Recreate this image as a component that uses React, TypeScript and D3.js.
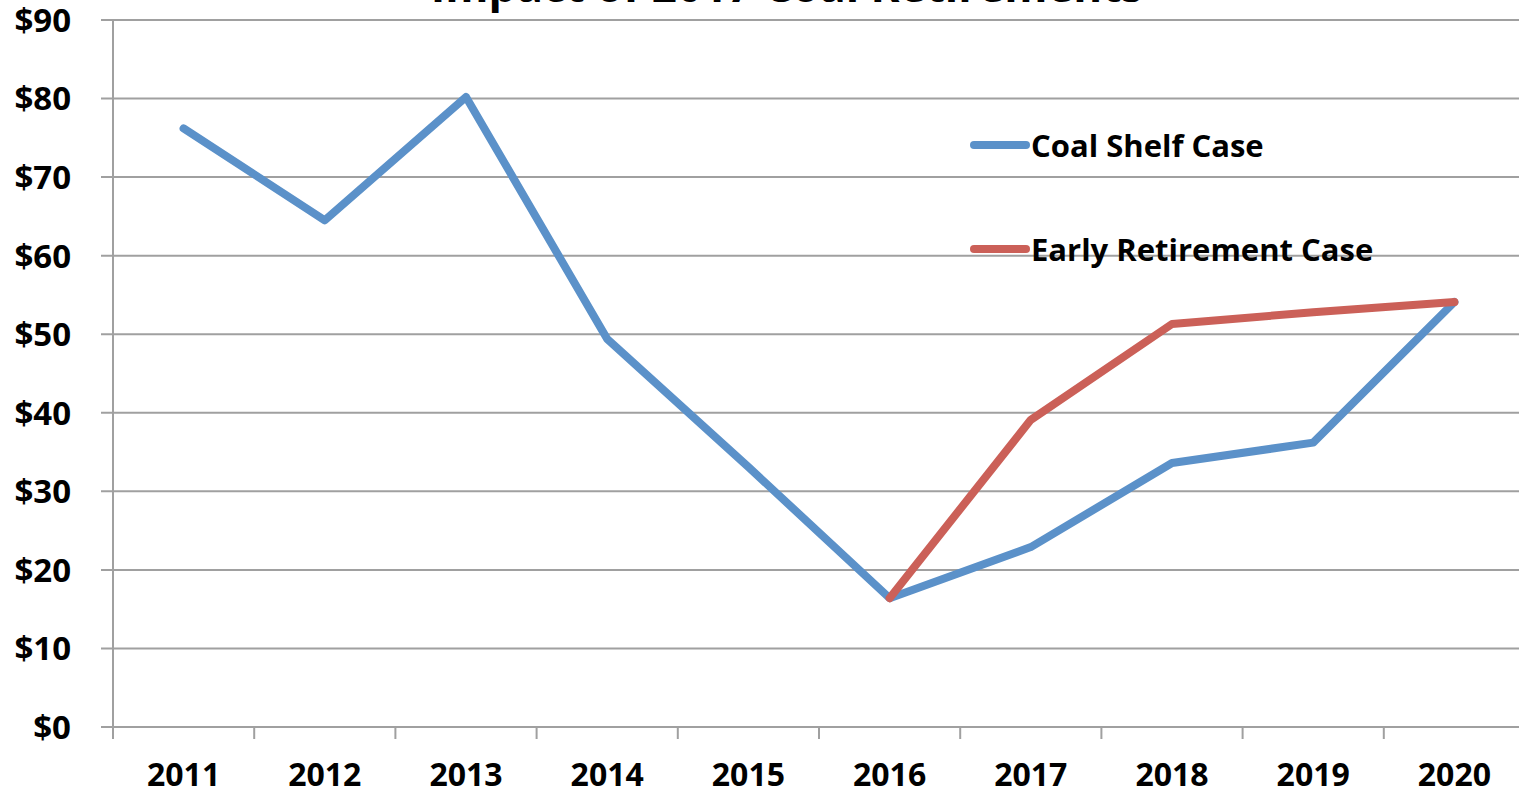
import React from "react";
import * as d3 from "d3";

const years = ["2011", "2012", "2013", "2014", "2015", "2016", "2017", "2018", "2019", "2020"];
const coalShelf = [76.2, 64.5, 80.2, 49.4, 33.1, 16.4, 22.9, 33.6, 36.2, 54.1];
const earlyRetirement: (number | null)[] = [null, null, null, null, null, 16.4, 39.1, 51.3, 52.8, 54.1];
const yTicks = [0, 10, 20, 30, 40, 50, 60, 70, 80, 90];
const title = "Impact of 2017 Coal Retirements";
const seriesNames = ["Coal Shelf Case", "Early Retirement Case"];
const colors = ["#5B91C9", "#CB6058"];

const W = 1519;
const H = 793;
const left = 113;
const right = 1525;
const top = 20;
const bottom = 727;
const font = "'Open Sans', sans-serif";

export default function App() {
  const x = d3.scaleBand<string>().domain(years).range([left, right]);
  const y = d3.scaleLinear().domain([0, 90]).range([bottom, top]);
  const cx = (i: number) => (x(years[i]) as number) + x.bandwidth() / 2;

  const line = d3
    .line<number | null>()
    .defined((d) => d !== null)
    .x((_, i) => cx(i))
    .y((d) => y(d as number));

  const tickXs = years.map((yr) => x(yr) as number).concat([right]);

  return (
    <svg
      width={W}
      height={H}
      style={{ position: "absolute", left: 0, top: 0, background: "#fff" }}
    >
      <rect x={0} y={0} width={W} height={H} fill="#fff" />
      {yTicks.map((t) => (
        <line key={t} x1={left - 12} x2={W} y1={y(t)} y2={y(t)} stroke="#A0A0A0" strokeWidth={2} />
      ))}
      <line x1={left} x2={left} y1={top} y2={bottom} stroke="#A0A0A0" strokeWidth={2} />
      {tickXs.map((tx, i) => (
        <line key={i} x1={tx} x2={tx} y1={bottom} y2={bottom + 12} stroke="#A0A0A0" strokeWidth={2} />
      ))}
      {yTicks.map((t) => (
        <text
          key={t}
          x={71}
          y={y(t)}
          dy="0.36em"
          textAnchor="end"
          fontFamily={font}
          fontWeight="bold"
          fontSize={33}
          fill="#000"
        >
          {"$" + t}
        </text>
      ))}
      {years.map((yr, i) => (
        <text
          key={yr}
          x={cx(i)}
          y={786}
          textAnchor="middle"
          fontFamily={font}
          fontWeight="bold"
          fontSize={32}
          fill="#000"
        >
          {yr}
        </text>
      ))}
      <text x={787} y={2} textAnchor="middle" fontFamily={font} fontWeight="bold" fontSize={44} fill="#000">
        {title}
      </text>
      <path d={line(coalShelf) || ""} fill="none" stroke={colors[0]} strokeWidth={8} strokeLinejoin="round" strokeLinecap="round" />
      <path d={line(earlyRetirement) || ""} fill="none" stroke={colors[1]} strokeWidth={8} strokeLinejoin="round" strokeLinecap="round" />
      {seriesNames.map((name, i) => {
        const ly = i === 0 ? 145 : 249;
        return (
          <g key={name}>
            <line x1={974} x2={1026} y1={ly} y2={ly} stroke={colors[i]} strokeWidth={8} strokeLinecap="round" />
            <text x={1031} y={ly} dy="0.4em" fontFamily={font} fontWeight="bold" fontSize={31} fill="#000">
              {name}
            </text>
          </g>
        );
      })}
    </svg>
  );
}
